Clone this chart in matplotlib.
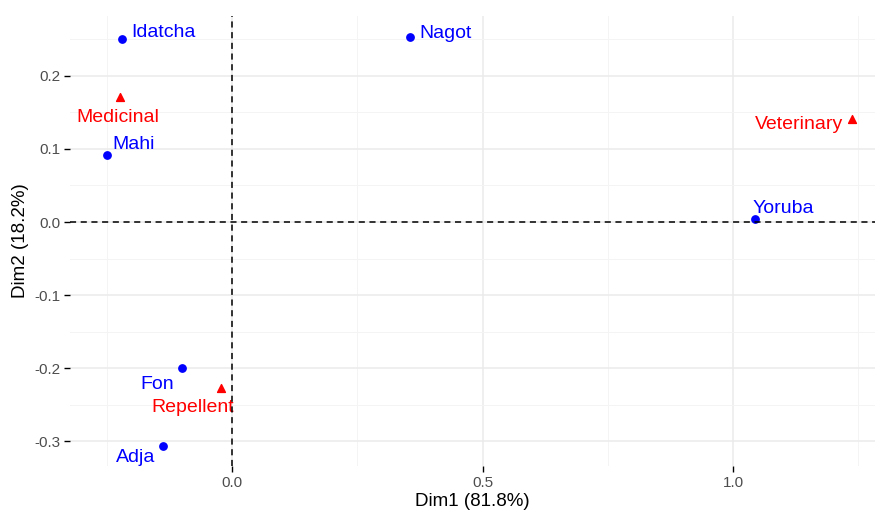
import matplotlib.pyplot as plt
from matplotlib.ticker import MultipleLocator

plt.rcParams['font.family'] = ['Liberation Sans', 'DejaVu Sans']
plt.rcParams['axes.unicode_minus'] = False

# Données : lignes (groupes) et colonnes (usages)
groupes = ['Idatcha', 'Mahi', 'Nagot', 'Yoruba', 'Fon', 'Adja']
groupes_dim1 = [-0.220, -0.250, 0.355, 1.044, -0.100, -0.138]
groupes_dim2 = [0.251, 0.092, 0.253, 0.004, -0.200, -0.307]

usages = ['Medicinal', 'Veterinary', 'Repellent']
usages_dim1 = [-0.224, 1.237, -0.022]
usages_dim2 = [0.171, 0.141, -0.227]

# décalage des étiquettes (pixels), façon ggrepel
decal_groupes = [(42, 6), (27, 10), (36, 4), (28, 11), (-25, -16), (-27, -11)]
decal_usages = [(-2, -20), (-53, -5), (-28, -20)]

fig = plt.figure(figsize=(8.77, 5.12), dpi=100)
ax = fig.add_axes([70 / 877, 46 / 512, 805 / 877, 450 / 512])

ax.scatter(groupes_dim1, groupes_dim2, s=28, color='blue', zorder=3)
ax.scatter(usages_dim1, usages_dim2, s=32, marker='^', color='red', zorder=3)

for nom, x, y, d in zip(groupes, groupes_dim1, groupes_dim2, decal_groupes):
    ax.annotate(nom, (x, y), xytext=d, textcoords='offset pixels',
                ha='center', va='center', color='blue', fontsize=14)
for nom, x, y, d in zip(usages, usages_dim1, usages_dim2, decal_usages):
    ax.annotate(nom, (x, y), xytext=d, textcoords='offset pixels',
                ha='center', va='center', color='red', fontsize=14)

# lignes pointillées à l'origine
ax.axhline(0, color='black', linestyle='--', linewidth=1.1, dashes=(4, 3), zorder=4)
ax.axvline(0, color='black', linestyle='--', linewidth=1.1, dashes=(4, 3), zorder=4)

ax.set_xlim(-0.323, 1.283)
ax.set_ylim(-0.334, 0.282)
ax.xaxis.set_major_locator(MultipleLocator(0.5))
ax.xaxis.set_minor_locator(MultipleLocator(0.25))
ax.yaxis.set_major_locator(MultipleLocator(0.1))
ax.yaxis.set_minor_locator(MultipleLocator(0.05))

# style theme_minimal
ax.grid(which='major', color='#EBEBEB', linewidth=1.1)
ax.grid(which='minor', color='#F4F4F4', linewidth=0.7)
ax.set_axisbelow(True)
for s in ax.spines.values():
    s.set_visible(False)
ax.tick_params(which='major', length=4, width=1, color='black', labelsize=11,
               labelcolor='#4D4D4D', pad=3)
ax.tick_params(which='minor', length=0)

ax.set_xlabel('Dim1 (81.8%)', fontsize=13.5, labelpad=2)
ax.set_ylabel('Dim2 (18.2%)', fontsize=13.5, labelpad=4)

fig.savefig('out.png', dpi=100)
